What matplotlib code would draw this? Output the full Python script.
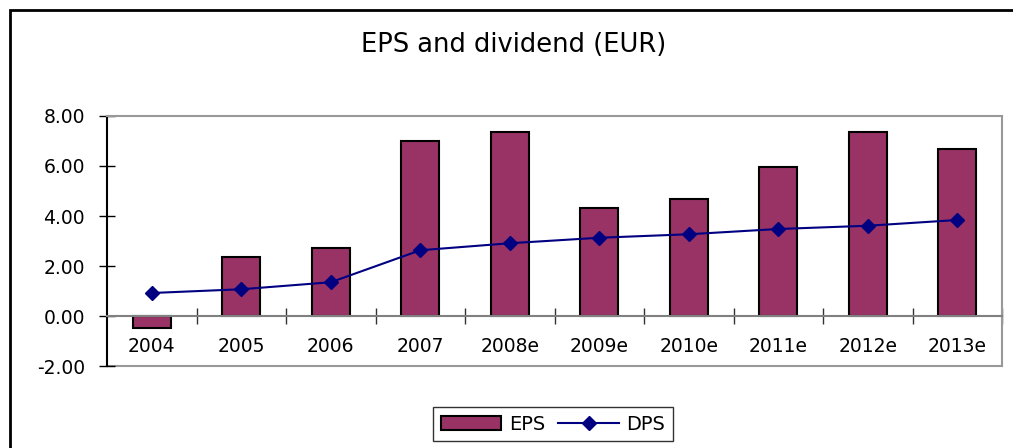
import matplotlib.pyplot as plt
from matplotlib.patches import Rectangle
import numpy as np

# Daten
years = ['2004', '2005', '2006', '2007', '2008e', '2009e', '2010e', '2011e', '2012e', '2013e']
eps = [-0.48, 2.36, 2.72, 7.01, 7.37, 4.33, 4.68, 5.96, 7.37, 6.67]
dps = [0.92, 1.07, 1.35, 2.63, 2.91, 3.13, 3.27, 3.48, 3.61, 3.84]

plt.rcParams['font.family'] = ['DejaVu Sans']

fig = plt.figure(figsize=(10.13, 4.48), dpi=100)
ax = fig.add_axes([107/1013, 1-366/448, (1002-107)/1013, (366-116)/448])

x = np.arange(len(years))
b = ax.bar(x, eps, width=0.42, color='#993366', edgecolor='black', linewidth=1.5, label='EPS', zorder=2)
l, = ax.plot(x, dps, color='#000080', marker='D', markersize=7, linewidth=1.5, label='DPS', zorder=3)

ax.set_xlim(-0.5, len(years) - 0.5)
ax.set_ylim(-2, 8)
ax.set_yticks(np.arange(-2, 8.1, 2))
ax.set_yticklabels(['%.2f' % v for v in np.arange(-2, 8.1, 2)])
ax.tick_params(axis='y', direction='inout', length=12, width=1, labelsize=13.5, pad=10)

# x-Achse auf Null
ax.spines['bottom'].set_position(('data', 0))
ax.spines['bottom'].set_color('#808080')
ax.spines['bottom'].set_linewidth(1.5)
ax.set_xticks(np.arange(0.5, len(years) - 0.4, 1))
ax.set_xticklabels([])
ax.set_xticks(x, minor=True)
ax.set_xticklabels(years, minor=True)
ax.tick_params(axis='x', which='major', direction='inout', length=11, width=1, color='#333333')
ax.tick_params(axis='x', which='minor', length=0, labelsize=13.5, pad=15)

ax.spines['left'].set_color('black')
ax.spines['left'].set_linewidth(1.5)
for s in ['top', 'right']:
    ax.spines[s].set_color('#999999')
    ax.spines[s].set_linewidth(1.5)
ax.axhline(-2, color='#999999', linewidth=1.5, zorder=1, clip_on=False)

fig.text(0.507, 1 - 45/448, 'EPS and dividend (EUR)', ha='center', va='center', fontsize=18.5)

leg = fig.legend([b, l], ['EPS', 'DPS'], loc='center', bbox_to_anchor=(553/1013, 1 - 424/448),
                 ncol=2, fontsize=14, frameon=True, fancybox=False, handlelength=3.1,
                 columnspacing=0.7, handletextpad=0.4, borderpad=0.4, borderaxespad=0)
leg.get_frame().set_edgecolor('black')
leg.get_frame().set_linewidth(1)

# Rahmen
fig.patches.append(Rectangle((10/1013, -0.1), 1.1, 1 - 10/448 + 0.1, transform=fig.transFigure,
                             fill=False, edgecolor='black', linewidth=2))

plt.savefig('out.png', dpi=100)
